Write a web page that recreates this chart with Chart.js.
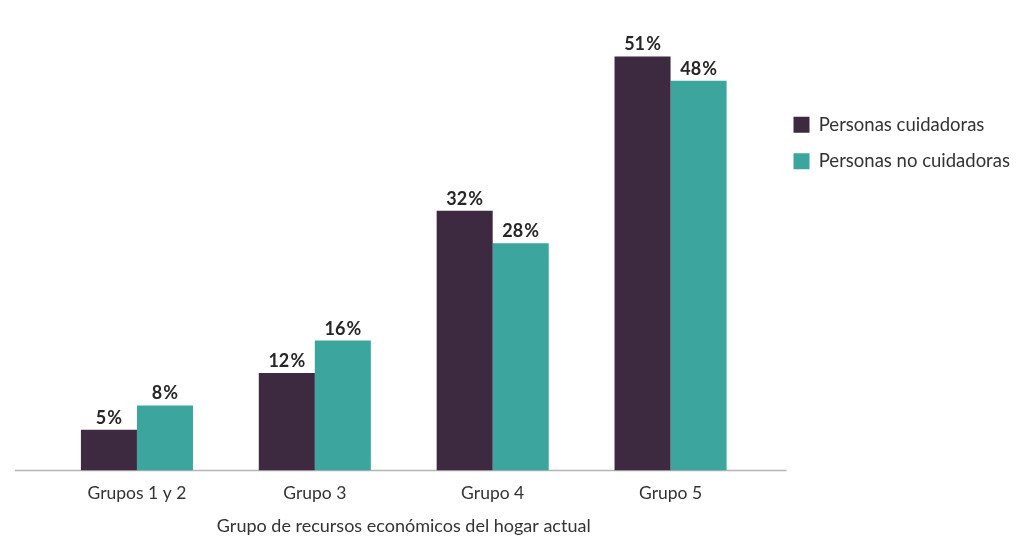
<!DOCTYPE html>
<html>
<head>
<meta charset="utf-8">
<script src="https://cdn.jsdelivr.net/npm/chart.js@4.4.1/dist/chart.umd.min.js"></script>
<style>
  html, body { margin: 0; padding: 0; background: #fff; }
  #wrap { width: 1024px; height: 554px; }
</style>
</head>
<body>
<div id="wrap"><canvas id="myChart"></canvas></div>
<script>
const groups = ["Grupos 1 y 2", "Grupo 3", "Grupo 4", "Grupo 5"];
const cuidadoras = [5, 12, 32, 51];
const noCuidadoras = [8, 16, 28, 48];
const seriesNames = ["Personas cuidadoras", "Personas no cuidadoras"];
const axisTitle = "Grupo de recursos económicos del hogar actual";

// value labels above each bar, e.g. "51%"
const barLabels = {
  id: "barLabels",
  afterDatasetsDraw(chart) {
    const ctx = chart.ctx;
    ctx.save();
    ctx.font = "bold 18px Lato";
    ctx.fillStyle = "#262626";
    ctx.textAlign = "center";
    ctx.textBaseline = "alphabetic";
    chart.data.datasets.forEach((ds, i) => {
      chart.getDatasetMeta(i).data.forEach((bar, j) => {
        ctx.fillText(ds.data[j] + "\u200A%", bar.x, bar.y - 6);
      });
    });
    ctx.restore();
  },
};

// grey baseline, a bit wider than the plot area
const baseLine = {
  id: "baseLine",
  beforeDatasetsDraw(chart) {
    const ctx = chart.ctx;
    const y = chart.scales.y.getPixelForValue(0);
    ctx.save();
    ctx.strokeStyle = "#b5b5b5";
    ctx.lineWidth = 1.5;
    ctx.beginPath();
    ctx.moveTo(chart.chartArea.left - 33, y);
    ctx.lineTo(chart.chartArea.right + 27, y);
    ctx.stroke();
    ctx.restore();
  },
};

const ctx = document.getElementById("myChart");
new Chart(ctx, {
  type: "bar",
  data: {
    labels: groups,
    datasets: [
      { label: seriesNames[0], data: cuidadoras, backgroundColor: "#3e2a40" },
      { label: seriesNames[1], data: noCuidadoras, backgroundColor: "#3ca59e" },
    ],
  },
  options: {
    responsive: true,
    maintainAspectRatio: false,
    animation: false,
    layout: { padding: { left: 48, right: 6, top: 24, bottom: 13 } },
    datasets: { bar: { categoryPercentage: 0.63, barPercentage: 1 } },
    scales: {
      x: {
        grid: { display: false, drawTicks: false },
        border: { display: false },
        ticks: { padding: 12, color: "#333", font: { family: "Lato", size: 17.5 } },
        title: {
          display: true,
          text: axisTitle,
          color: "#333",
          font: { family: "Lato", size: 18 },
          padding: { top: 0, bottom: 4 },
        },
      },
      y: {
        position: "right",
        min: 0,
        max: 55,
        grid: { display: false },
        border: { display: false },
        ticks: { display: false },
        afterFit(scale) { scale.width = 16; },
      },
    },
    plugins: {
      tooltip: { enabled: false },
      legend: {
        position: "right",
        align: "start",
        title: { display: true, text: "", padding: { top: 59 } },
        labels: {
          boxWidth: 16,
          boxHeight: 16,
          padding: 18,
          color: "#333",
          font: { family: "Lato", size: 18.5 },
        },
      },
    },
  },
  plugins: [barLabels, baseLine],
});
</script>
</body>
</html>
